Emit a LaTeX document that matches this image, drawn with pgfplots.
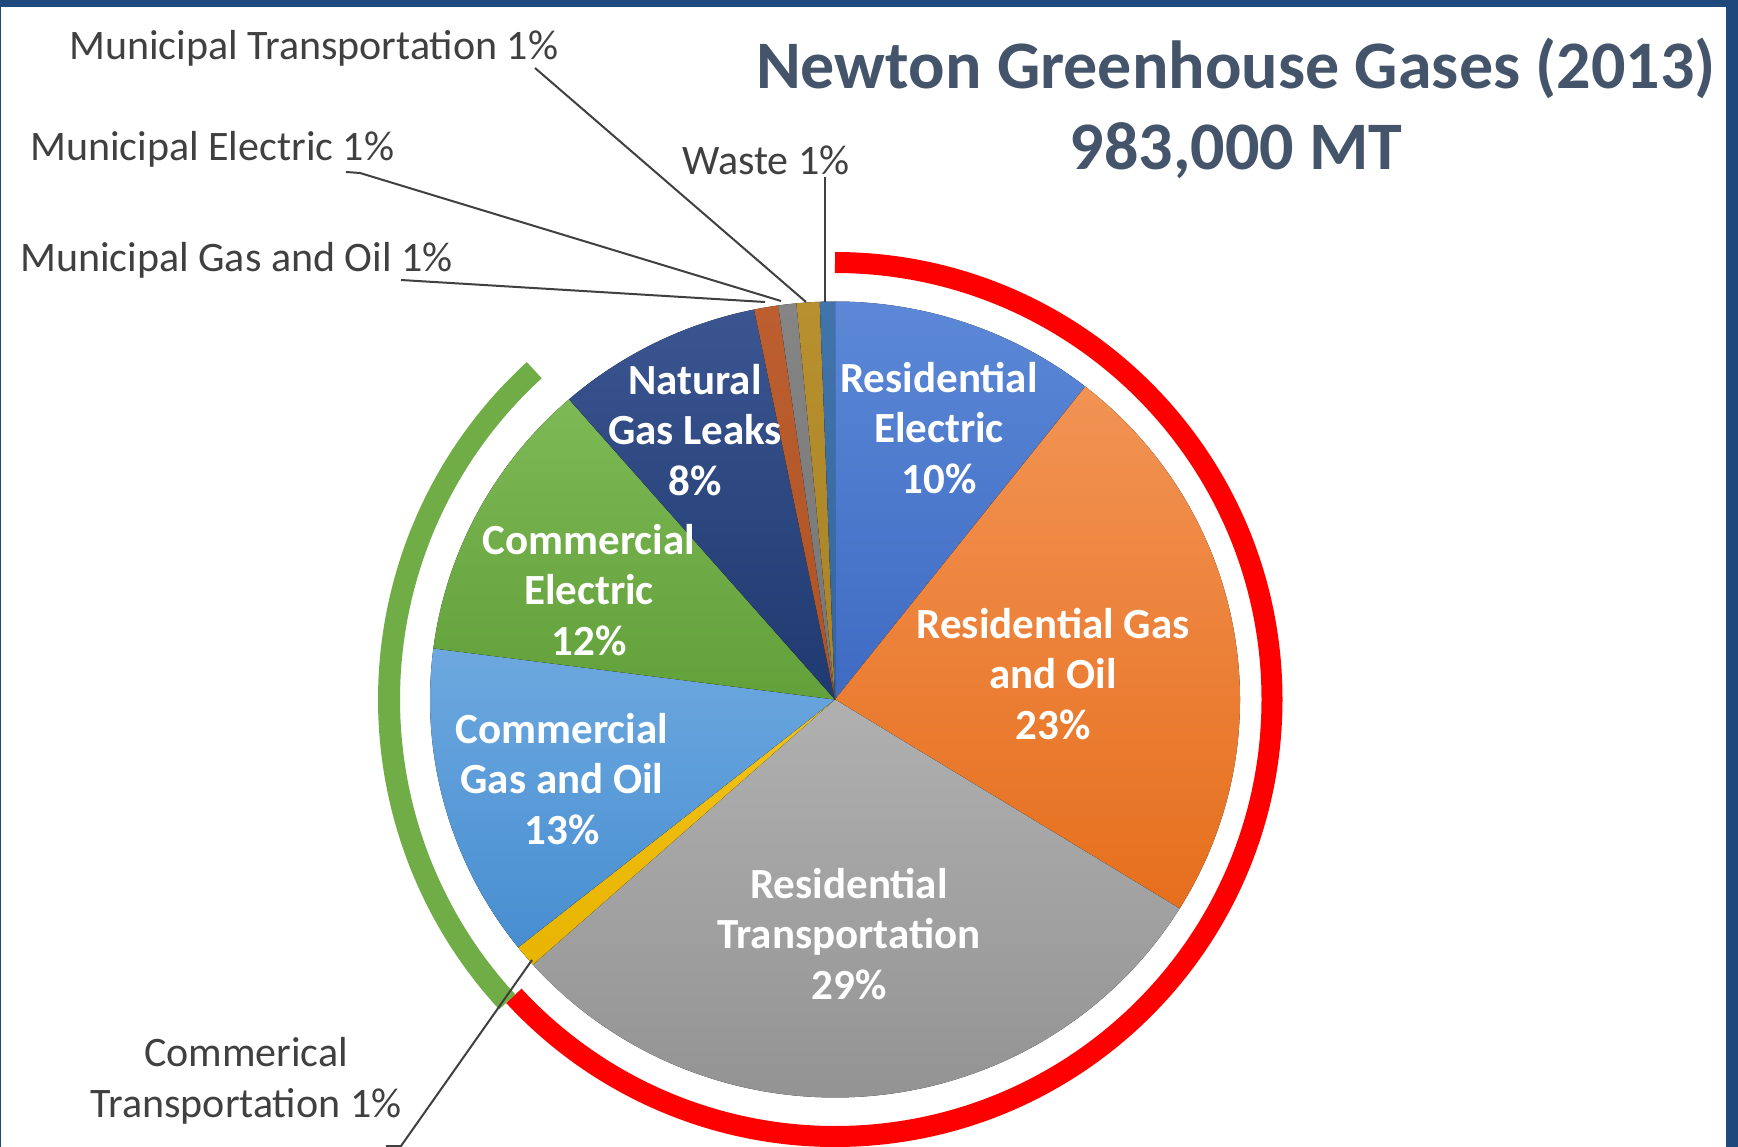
\documentclass[border=0pt]{standalone}
\usepackage{fontspec}
\setmainfont{Carlito}
\usepackage{pgfplots}
\pgfplotsset{compat=1.18}
\definecolor{frame}{HTML}{1F497D}
\definecolor{lbl}{HTML}{404040}
\definecolor{ttl}{HTML}{44546A}
\definecolor{ringgreen}{HTML}{70AD47}
% slice colours (top, bottom of gradient)
\definecolor{reT}{HTML}{5C88D7}\definecolor{reB}{HTML}{3E6AC2}
\definecolor{rgT}{HTML}{F29354}\definecolor{rgB}{HTML}{E66F1D}
\definecolor{rtT}{HTML}{B0B0B0}\definecolor{rtB}{HTML}{939393}
\definecolor{ctT}{HTML}{F2C21A}\definecolor{ctB}{HTML}{E8B400}
\definecolor{cgT}{HTML}{6DA8DF}\definecolor{cgB}{HTML}{478ED1}
\definecolor{ceT}{HTML}{7DB955}\definecolor{ceB}{HTML}{62A03A}
\definecolor{ngT}{HTML}{3A5590}\definecolor{ngB}{HTML}{1F3A70}
\definecolor{mgT}{HTML}{BC5E30}\definecolor{mgB}{HTML}{AE5224}
\definecolor{meT}{HTML}{858585}\definecolor{meB}{HTML}{767676}
\definecolor{mtT}{HTML}{B8902F}\definecolor{mtB}{HTML}{A88225}
\definecolor{wsT}{HTML}{4174AA}\definecolor{wsB}{HTML}{33669C}

\gdef\cum{0}
% #1 share in percent, #2 top colour, #3 bottom colour
\newcommand\slice[3]{%
  \pgfmathsetmacro\sa{90-3.6*\cum}%
  \pgfmathsetmacro\cumnew{\cum+#1}%
  \pgfmathsetmacro\se{90-3.6*\cumnew}%
  \edef\doit{\noexpand\fill[top color=#2,bottom color=#3]
    (axis cs:835,699.5) -- ++(\sa:405pt and 398pt)
    arc[start angle=\sa,end angle=\se,x radius=405pt,y radius=398pt] -- cycle;}%
  \doit
  \global\let\cum\cumnew}

\newcommand\lab{\fontsize{42}{51}\selectfont}
\newcommand\inl{\fontsize{43}{50.5}\selectfont\bfseries}

\begin{document}
\begin{tikzpicture}
\begin{axis}[
  x=1pt, y=1pt, y dir=reverse,
  xmin=0, xmax=1738, ymin=0, ymax=1147,
  hide axis, clip=false,
  at={(0,0)}, anchor=south west,
]
\coordinate (LL) at (axis cs:0,1147);
\coordinate (UR) at (axis cs:1738,0);
\fill[white] (axis cs:0,0) rectangle (axis cs:1738,1147);

% pie slices, clockwise from 12 o'clock (shares)
\slice{10.6}{reT}{reB}   % Residential Electric
\slice{23.2}{rgT}{rgB}   % Residential Gas and Oil
\slice{29.6}{rtT}{rtB}   % Residential Transportation
\slice{0.9}{ctT}{ctB}    % Commerical Transportation
\slice{12.75}{cgT}{cgB}  % Commercial Gas and Oil
\slice{11.55}{ceT}{ceB}  % Commercial Electric
\slice{8.2}{ngT}{ngB}    % Natural Gas Leaks
\slice{0.96}{mgT}{mgB}   % Municipal Gas and Oil
\slice{0.72}{meT}{meB}   % Municipal Electric
\slice{0.92}{mtT}{mtB}   % Municipal Transportation
\slice{0.6}{wsT}{wsB}    % Waste

% surrounding rings
\draw[red, line width=21pt] (axis cs:835,699.5) ++(90:437pt)
  arc[start angle=90, end angle=-137.3, radius=437pt];
\draw[ringgreen, line width=22pt] (axis cs:835,699.5) ++(-137.3:446pt)
  arc[start angle=-137.3, end angle=-227.6, radius=446pt];

% leader lines
\draw[lbl, line width=2pt] (axis cs:535,68) -- (axis cs:806,302);
\draw[lbl, line width=2pt] (axis cs:346,172) -- (axis cs:360,173) -- (axis cs:781,301);
\draw[lbl, line width=2pt] (axis cs:401,280) -- (axis cs:765,302);
\draw[lbl, line width=2pt] (axis cs:825,177) -- (axis cs:825,302);
\draw[lbl, line width=2pt] (axis cs:532,960) -- (axis cs:401,1146) -- (axis cs:386,1146);

% outside labels
\node[anchor=base west, inner sep=0, text=lbl, font=\lab] at (axis cs:69,60) {Municipal Transportation 1\%};
\node[anchor=base west, inner sep=0, text=lbl, font=\lab] at (axis cs:30,161) {Municipal Electric 1\%};
\node[anchor=base west, inner sep=0, text=lbl, font=\lab] at (axis cs:20,272) {Municipal Gas and Oil 1\%};
\node[anchor=base west, inner sep=0, text=lbl, font=\lab] at (axis cs:682,175) {Waste 1\%};
\node[anchor=base, inner sep=0, align=center, text=lbl, font=\lab] at (axis cs:246,1117) {Commerical\\Transportation 1\%};

% title
\node[anchor=base, inner sep=0, text=ttl, font=\fontsize{68}{80}\selectfont\bfseries] at (axis cs:1236,89) {Newton Greenhouse Gases (2013)};
\node[anchor=base, inner sep=0, text=ttl, font=\fontsize{68}{80}\selectfont\bfseries] at (axis cs:1236,170) {983,000 MT};

% slice labels
\node[align=center, inner sep=0, text=white, font=\inl] at (axis cs:939,428) {Residential\\Electric\\10\%};
\node[align=center, inner sep=0, text=white, font=\inl] at (axis cs:1053,674) {Residential Gas\\and Oil\\23\%};
\node[align=center, inner sep=0, text=white, font=\inl] at (axis cs:849,934) {Residential\\Transportation\\29\%};
\node[align=center, inner sep=0, text=white, font=\inl] at (axis cs:562,779) {Commercial\\Gas and Oil\\13\%};
\node[align=center, inner sep=0, text=white, font=\inl] at (axis cs:589,590) {Commercial\\Electric\\12\%};
\node[align=center, inner sep=0, text=white, font=\inl] at (axis cs:695,430) {Natural\\Gas Leaks\\8\%};

% frame
\fill[frame] (axis cs:0,0) rectangle (axis cs:1738,7);
\fill[frame] (axis cs:1726,0) rectangle (axis cs:1738,1147);
\fill[frame] (axis cs:0,0) rectangle (axis cs:1.5,1147);
\end{axis}
\pgfresetboundingbox
\path[use as bounding box] (LL) rectangle (UR);
\end{tikzpicture}
\end{document}
